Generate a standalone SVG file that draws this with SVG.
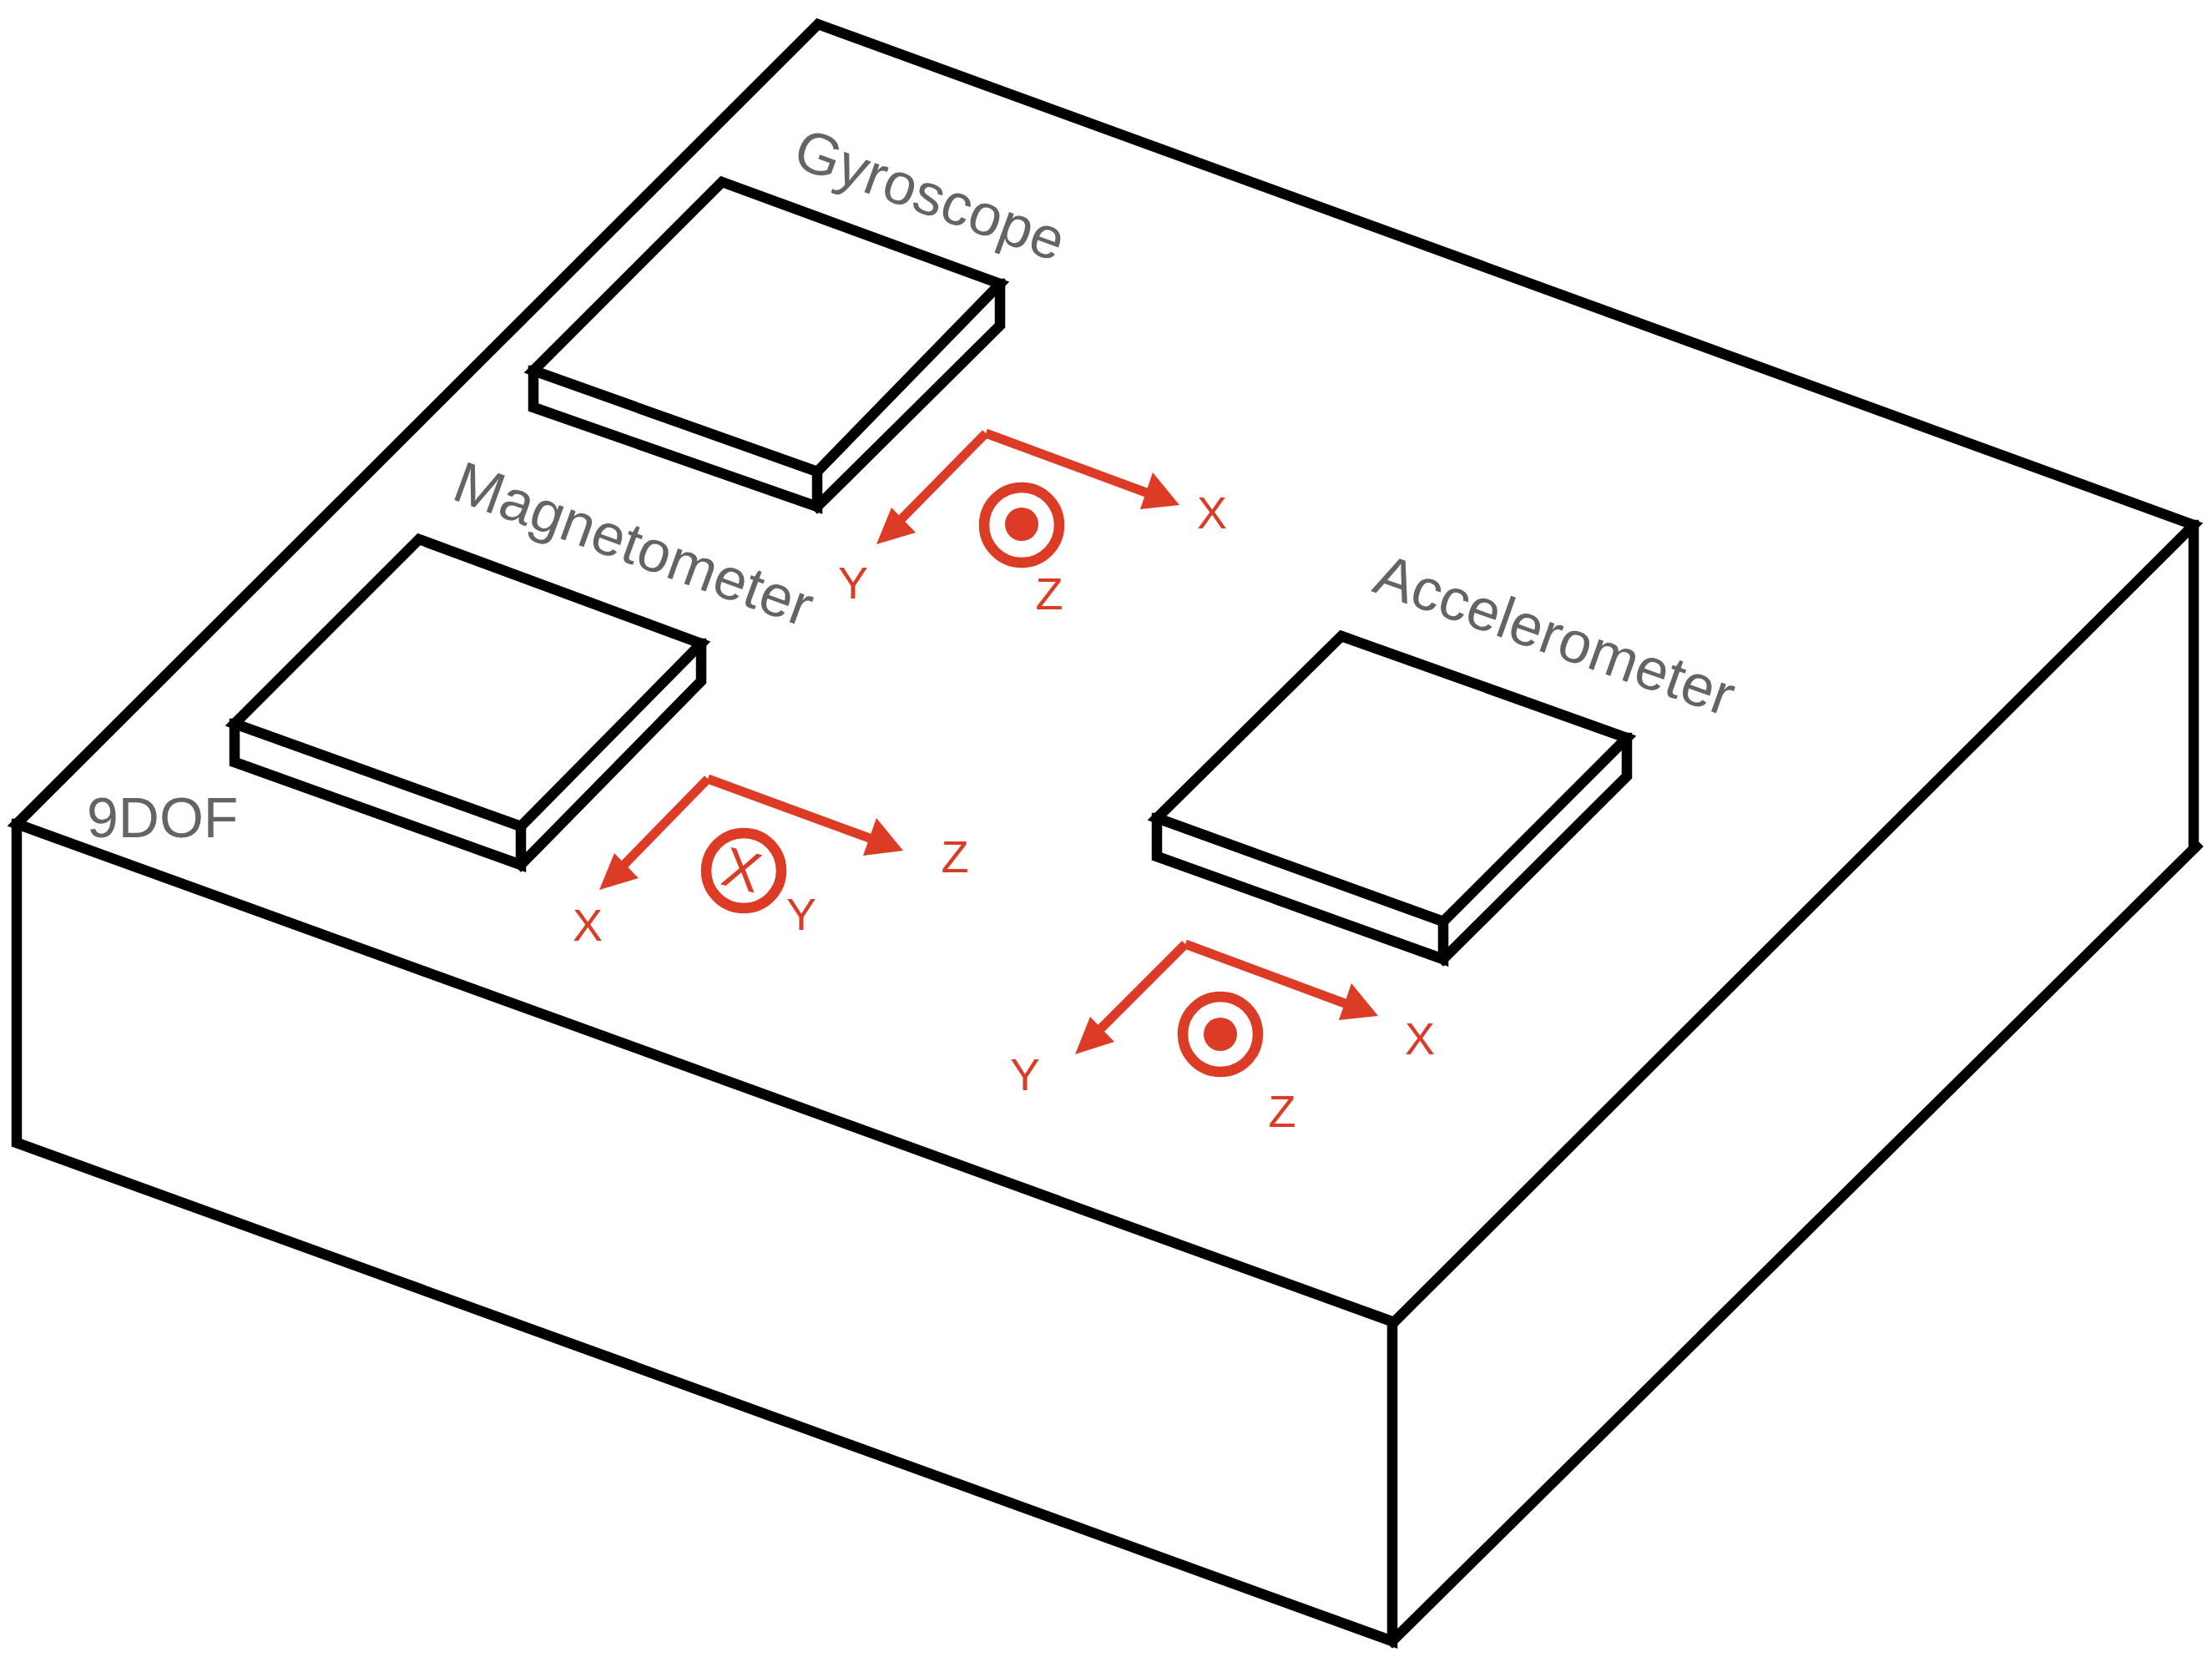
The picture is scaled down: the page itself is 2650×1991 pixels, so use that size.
<svg xmlns="http://www.w3.org/2000/svg" width="2650" height="1991" viewBox="0 0 2650 1991">
<defs>
<style>
.k{stroke:#000;stroke-width:12.5;fill:none;stroke-linecap:square}
.r{stroke:#dc3b26;stroke-width:11;fill:none;stroke-linecap:butt}
.h{fill:#dc3b26}
.ring{stroke:#dc3b26;stroke-width:12.5;fill:none}
text{font-family:"Liberation Sans",Arial,sans-serif}
.g{fill:#646464;font-size:70px}
.d{fill:#646464;font-size:68px}
.l{fill:#dc3b26;font-size:54px;text-anchor:middle}
</style>
</defs>
<rect width="2650" height="1991" fill="#fff"/>
<g id="connectors">
<g id="base" class="k">
<path d="M980 29L2628 629L1670 1584L20 987Z"/>
<path d="M20 987V1369L1668 1966V1584M1668 1966L2631 1014M2628 629V1014"/>
</g>
<g id="axes">
<path class="r" d="M1181 519L1060 642"/>
<path class="r" d="M1181 519L1400 600"/>
<path class="r" d="M848 933L728 1056"/>
<path class="r" d="M848 933L1069 1014"/>
<path class="r" d="M1420 1131L1298 1253"/>
<path class="r" d="M1420 1131L1638 1212"/>
<polygon class="h" points="1050,652 1068,608 1097,638"/>
<polygon class="h" points="1413,605 1366,610 1381,566"/>
<polygon class="h" points="718,1066 736,1022 765,1052"/>
<polygon class="h" points="1082,1019 1034,1025 1050,980"/>
<polygon class="h" points="1288,1263 1306,1218 1335,1248"/>
<polygon class="h" points="1651,1217 1604,1222 1619,1178"/>
</g>
</g>
<g id="gyroscope" class="k">
<path d="M865 218L1198 340L979 565L639 444Z"/>
<path d="M639 444V488L979 607V565M979 607L1198 390V340"/>
</g>
<g id="magnetometer" class="k">
<path d="M502 646L840 771L624 990L281 867Z"/>
<path d="M281 867V913L624 1036V990M624 1036L840 816V771"/>
</g>
<g id="accelerometer" class="k">
<path d="M1607 762L1949 884L1729 1104L1386 980Z"/>
<path d="M1386 980V1026L1729 1149V1104M1729 1149L1949 930V884"/>
</g>
<g id="gyro-z"><circle class="ring" cx="1224" cy="629" r="45"/><circle class="h" cx="1224" cy="628" r="20"/></g>
<g id="mag-y"><circle class="ring" cx="891" cy="1043" r="45"/><text x="889" y="1065" transform="rotate(14 889 1041)" font-size="67" text-anchor="middle" class="h">X</text></g>
<g id="acc-z"><circle class="ring" cx="1462" cy="1239" r="45"/><circle class="h" cx="1462" cy="1239" r="20"/></g>
<text class="g" transform="translate(947 198) rotate(20)">Gyroscope</text>
<text class="g" transform="translate(539 597) rotate(20)">Magnetometer</text>
<text class="g" transform="translate(1642 708) rotate(19.5)">Accelerometer</text>
<text class="d" x="104" y="1003">9DOF</text>
<text class="l" x="1452" y="633">X</text><text class="l" x="1022" y="717">Y</text><text class="l" x="1257" y="730">Z</text>
<text class="l" x="704" y="1127">X</text><text class="l" x="960" y="1114">Y</text><text class="l" x="1144" y="1045">Z</text>
<text class="l" x="1701" y="1263">X</text><text class="l" x="1228" y="1306">Y</text><text class="l" x="1536" y="1350">Z</text>
</svg>
